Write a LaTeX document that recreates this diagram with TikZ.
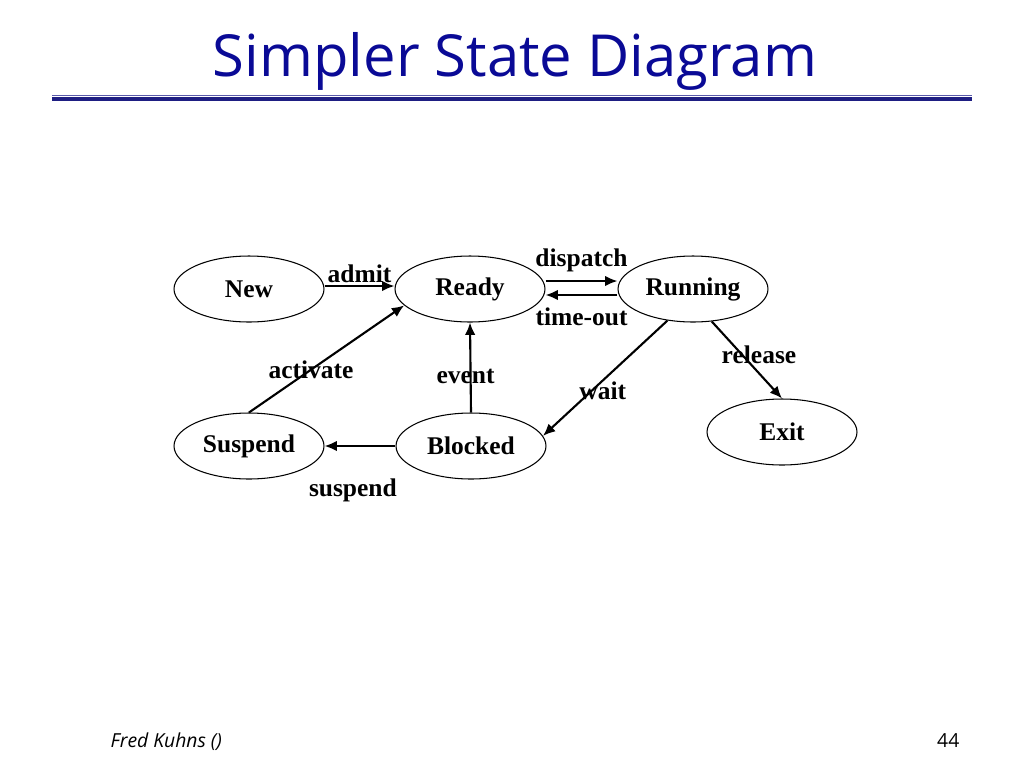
\documentclass[tikz,border=0pt]{standalone}
\usepackage{fontspec}
\setmainfont{Liberation Serif}
\newfontfamily\slidefont{Open Sans}
\usepackage{tikz}
\usetikzlibrary{shapes,arrows.meta}
\definecolor{titleblue}{RGB}{10,10,150}
\definecolor{ruleblue}{RGB}{30,30,130}
\definecolor{rulelight}{RGB}{90,90,170}

\begin{document}
\begin{tikzpicture}[x=0.02cm,y=-0.02cm]
                \tikzstyle{every path}=[thick]
                \tikzstyle{state}=[ellipse,draw,line width=0.6pt,minimum width=3cm,
                minimum height=1.32cm,inner sep=0pt,font=\fontsize{14.5}{16}\selectfont\bfseries]
                \tikzstyle{trans}=[->,>={Latex[length=7pt,width=6pt]},line width=1.2pt]
                \tikzstyle{lbl}=[font=\fontsize{14.5}{16}\selectfont\bfseries,inner sep=1pt]

                \useasboundingbox (0,0) rectangle (1024,768);

                %% Title and rule
                \node [anchor=base,text=titleblue,font=\slidefont\fontsize{33}{36}\selectfont]
                    (title) at (515,76) {Simpler State Diagram};
                \draw [rulelight,line width=0.9pt] (52,95.5) -- (972,95.5);
                \draw [ruleblue,line width=2pt] (52,99) -- (972,99);

                %% States
                \node [state] (new) at (249,289) {New};
                \node [state] (ready) at (470,289) {Ready};
                \node [state] (running) at (693,289) {Running};
                \node [state] (suspend) at (249,446) {Suspend};
                \node [state] (blocked) at (471,446) {Blocked};
                \node [state] (exit) at (782,432) {Exit};

                %% Transitions
                \draw [trans] ([yshift=0.06cm]new.east) -- node[lbl,above] {admit}
                    ([yshift=0.06cm]ready.west);
                \draw [trans] ([yshift=0.16cm]ready.east) -- node[lbl,above=0.12cm] {dispatch}
                    ([yshift=0.16cm]running.west);
                \draw [trans] ([yshift=-0.12cm]running.west) -- node[lbl,below=0.2cm] {time-out}
                    ([yshift=-0.12cm]ready.east);
                \draw [trans] (suspend.north) -- node[lbl,pos=0.4] {activate} (ready.194);
                \draw [trans] (blocked.north) -- node[lbl,pos=0.4,xshift=-0.1cm] {event}
                    (ready.south);
                \draw [trans] (running.231) -- node[lbl,pos=0.52,yshift=-0.2cm] {wait}
                    (blocked.8);
                \draw [trans] (running.300) -- node[lbl,pos=0.43,xshift=0.34cm] {release}
                    (exit.north);
                \draw [trans] (blocked.west) -- node[lbl,pos=0.6,yshift=-0.88cm] {suspend}
                    (suspend.east);

                %% Footer
                \node [anchor=base west,inner sep=0pt,font=\slidefont\itshape\fontsize{11}{13}\selectfont]
                    (author) at (110,747) {Fred Kuhns ()};
                \node [anchor=base east,inner sep=0pt,font=\slidefont\fontsize{11}{13}\selectfont]
                    (page) at (960,747) {44};
\end{tikzpicture}
\end{document}
